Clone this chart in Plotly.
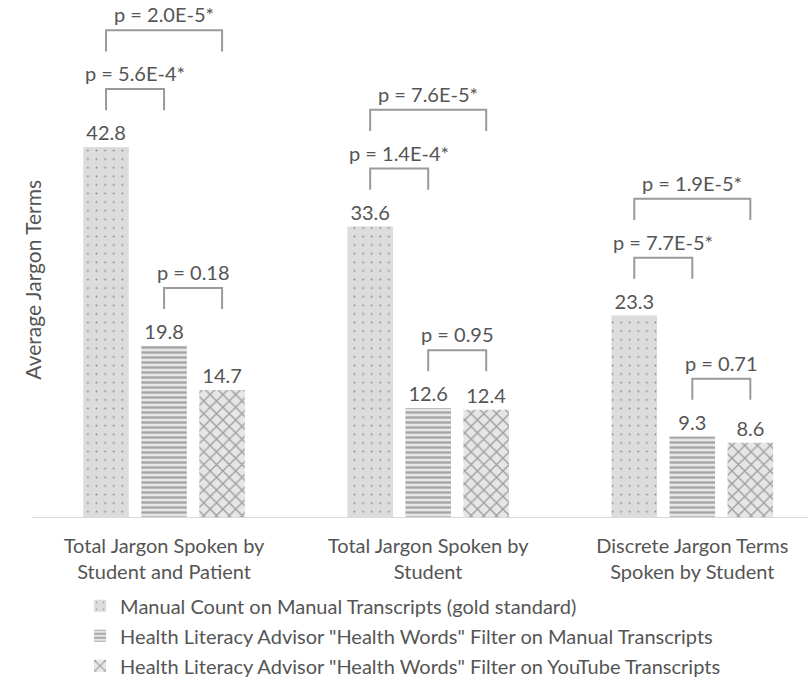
import plotly.graph_objects as go

# Jargon counts per transcript, averaged
categories = [
    "Total Jargon Spoken by<br>Student and Patient",
    "Total Jargon Spoken by<br>Student",
    "Discrete Jargon Terms<br>Spoken by Student",
]
series_names = [
    "Manual Count on Manual Transcripts (gold standard)",
    'Health Literacy Advisor "Health Words" Filter on Manual Transcripts',
    'Health Literacy Advisor "Health Words" Filter on YouTube Transcripts',
]
manual_counts = [42.8, 33.6, 23.3]
hla_manual = [19.8, 12.6, 9.3]
hla_youtube = [14.7, 12.4, 8.6]

# p-values for pairwise comparisons within each category
p_manual_vs_hla_manual = ["p = 5.6E-4*", "p = 1.4E-4*", "p = 7.7E-5*"]
p_manual_vs_hla_youtube = ["p = 2.0E-5*", "p = 7.6E-5*", "p = 1.9E-5*"]
p_hla_manual_vs_youtube = ["p = 0.18", "p = 0.95", "p = 0.71"]

FONT = "Lato"
TEXT = "#555555"
FS = 20
BARGAP = 0.341
BARGROUPGAP = 0.215
SLOT = (1 - BARGAP) / 3  # width of one bar slot in category units

styles = [
    dict(shape=".", fgcolor="#3a3a3a", bgcolor="#dcdcdc", size=8.6, solidity=0.04),
    dict(shape="-", fgcolor="#606060", bgcolor="#e6e6e6", size=5, solidity=0.45),
    dict(shape="x", fgcolor="#555555", bgcolor="#e6e6e6", size=9, solidity=0.28),
]

fig = go.Figure()
for i, (name, vals) in enumerate(zip(series_names, [manual_counts, hla_manual, hla_youtube])):
    fig.add_trace(go.Bar(
        x=categories, y=vals, name=name,
        legendgroup=f"g{i}",
        marker=dict(color=styles[i]["bgcolor"], line=dict(width=0),
                    pattern=dict(shape=styles[i]["shape"], fgcolor=styles[i]["fgcolor"],
                                 bgcolor=styles[i]["bgcolor"], size=styles[i]["size"],
                                 solidity=styles[i]["solidity"], fillmode="overlay")),
        text=[f"{v:.1f}" for v in vals], textposition="outside",
        textfont=dict(family=FONT, size=FS, color=TEXT),
        cliponaxis=False,
    ))

# significance brackets
OFFSET = 6.7   # gap above the taller bar of a pair
STEP = 6.8     # extra height for the wide bracket
TICK = 2.45    # vertical leg length
all_vals = [manual_counts, hla_manual, hla_youtube]


def bracket(g, a, b, level, label):
    xa = g + (a - 1) * SLOT
    xb = g + (b - 1) * SLOT
    path = f"M {xa} {level - TICK} L {xa} {level} L {xb} {level} L {xb} {level - TICK}"
    fig.add_shape(type="path", path=path, xref="x", yref="y",
                  line=dict(color="#9a9a9a", width=2))
    fig.add_annotation(x=(xa + xb) / 2, y=level, xref="x", yref="y", text=label,
                       showarrow=False, yanchor="bottom", yshift=2,
                       font=dict(family=FONT, size=FS, color=TEXT))


for g in range(3):
    v = [s[g] for s in all_vals]
    lvl12 = max(v[0], v[1]) + OFFSET
    bracket(g, 0, 1, lvl12, p_manual_vs_hla_manual[g])
    bracket(g, 0, 2, lvl12 + STEP, p_manual_vs_hla_youtube[g])
    bracket(g, 1, 2, max(v[1], v[2]) + OFFSET, p_hla_manual_vs_youtube[g])

fig.add_annotation(text="Average Jargon Terms", xref="paper", yref="paper",
                   x=-0.018, y=0.458, textangle=-90, showarrow=False,
                   font=dict(family=FONT, size=21, color=TEXT))

fig.update_layout(
    width=808, height=679,
    margin=dict(l=32, r=0, t=0, b=162, autoexpand=False),
    plot_bgcolor="white", paper_bgcolor="white",
    barmode="group", bargap=BARGAP, bargroupgap=BARGROUPGAP,
    showlegend=True,
    legend=dict(x=0.062, y=-0.134, xanchor="left", yanchor="top",
                traceorder="grouped", tracegroupgap=1,
                font=dict(family=FONT, size=FS, color=TEXT)),
    font=dict(family=FONT, size=FS, color=TEXT),
)
fig.update_xaxes(type="category", range=[-0.5, 2.438], showline=True,
                 linecolor="#d9d9d9", linewidth=1, ticks="",
                 tickfont=dict(family=FONT, size=FS, color=TEXT),
                 ticklabelstandoff=11, showgrid=False, automargin=False)
fig.update_yaxes(range=[0, 59.8], visible=False)

fig.write_html("out.html")
